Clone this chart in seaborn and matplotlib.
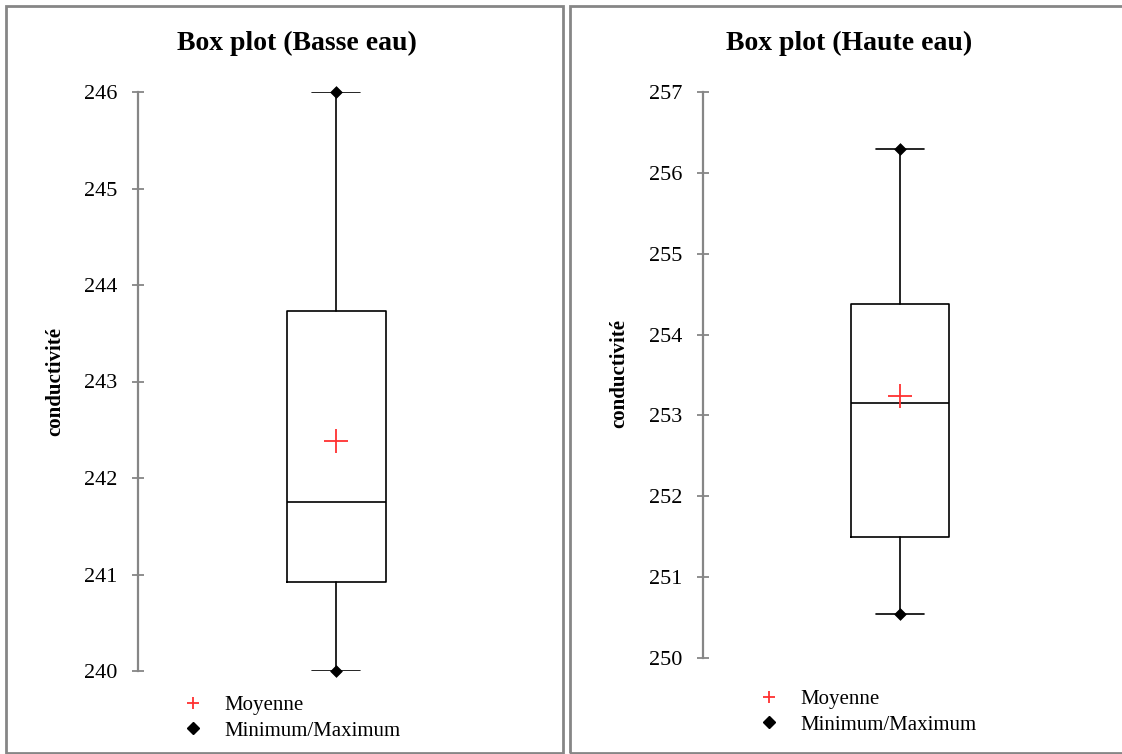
import numpy as np
import seaborn as sns
import matplotlib.pyplot as plt
from matplotlib.patches import Rectangle
from matplotlib.lines import Line2D

# values
titles = ["Box plot (Basse eau)", "Box plot (Haute eau)"]
q1 = [240.92, 251.50]
median = [241.75, 253.15]
q3 = [243.73, 254.38]
minimum = [240.0, 250.55]
maximum = [246.0, 256.30]
mean = [242.38, 253.24]
y_ranges = [(240, 246), (250, 257)]

W, H = 1122, 754
GRAY = "#868686"
RED = "#ff3030"

sns.set_theme(style="white")
plt.rcParams["font.family"] = ["Liberation Serif", "DejaVu Serif"]
plt.rcParams["text.color"] = "black"
plt.rcParams["axes.labelcolor"] = "black"

fig = plt.figure(figsize=(W / 100, H / 100), dpi=100)


def fx(x):
    return x / W


def fy(y):
    return 1 - y / H


# panel layout in pixels: frame box, axes box, title x, ylabel pos, legend anchor
panels = [
    dict(frame=(6, 6, 563, 753), axes=(138, 92, 534, 671), title_x=297, ylab=(55, 381), leg=(183, 718)),
    dict(frame=(570, 6, 1130, 753), axes=(703, 92, 1097, 658), title_x=849, ylab=(619, 374), leg=(759, 712)),
]

for i, p in enumerate(panels):
    x0, y0, x1, y1 = p["frame"]
    fig.add_artist(Rectangle((fx(x0), fy(y1)), fx(x1 - x0), (y1 - y0) / H,
                             transform=fig.transFigure, fill=False,
                             edgecolor=GRAY, linewidth=2))

    ax0, ay0, ax1, ay1 = p["axes"]
    ax = fig.add_axes([fx(ax0), fy(ay1), fx(ax1 - ax0), (ay1 - ay0) / H])
    ax.set_facecolor("none")

    stats = [dict(med=median[i], q1=q1[i], q3=q3[i], whislo=minimum[i],
                  whishi=maximum[i], fliers=[])]
    ax.bxp(stats, positions=[0], widths=0.25, capwidths=0.12, showfliers=False,
           boxprops=dict(color="black", linewidth=1.2),
           whiskerprops=dict(color="black", linewidth=1.2),
           capprops=dict(color="black", linewidth=1.2),
           medianprops=dict(color="black", linewidth=1.2))

    sns.scatterplot(x=[0], y=[mean[i]], marker="+", s=280, color=RED,
                    linewidth=1.3, ax=ax, zorder=5)
    sns.scatterplot(x=[0, 0], y=[minimum[i], maximum[i]], marker="D", s=36,
                    color="black", edgecolor="black", ax=ax, zorder=5,
                    clip_on=False)

    lo, hi = y_ranges[i]
    ax.set_xlim(-0.5, 0.5)
    ax.set_ylim(lo, hi)
    ax.set_yticks(np.arange(lo, hi + 1))
    ax.set_xticks([])
    for side in ["top", "right", "bottom"]:
        ax.spines[side].set_visible(False)
    ax.spines["left"].set_color(GRAY)
    ax.spines["left"].set_linewidth(1.6)
    ax.tick_params(axis="y", direction="inout", length=8, width=1.3,
                   color=GRAY, labelsize=16, labelcolor="black", pad=11,
                   left=True)

    fig.text(fx(p["title_x"]), fy(43), titles[i], ha="center", va="center",
             fontsize=20, fontweight="bold", color="black")
    fig.text(fx(p["ylab"][0]), fy(p["ylab"][1]), "conductivité", rotation=90,
             ha="center", va="center", fontsize=15, fontweight="bold",
             color="black")

    handles = [
        Line2D([], [], linestyle="none", marker="+", color=RED, markersize=9,
               markeredgewidth=1.3),
        Line2D([], [], linestyle="none", marker="D", color="black",
               markersize=6),
    ]
    leg = fig.legend(handles, ["Moyenne", "Minimum/Maximum"], loc="center left",
                     bbox_to_anchor=(fx(p["leg"][0]), fy(p["leg"][1])),
                     bbox_transform=fig.transFigure, frameon=False, fontsize=15,
                     handlelength=1.0, handletextpad=1.0, labelspacing=0.3,
                     borderpad=0, borderaxespad=0)
    for t in leg.get_texts():
        t.set_color("black")

fig.savefig("out.png", dpi=100)
